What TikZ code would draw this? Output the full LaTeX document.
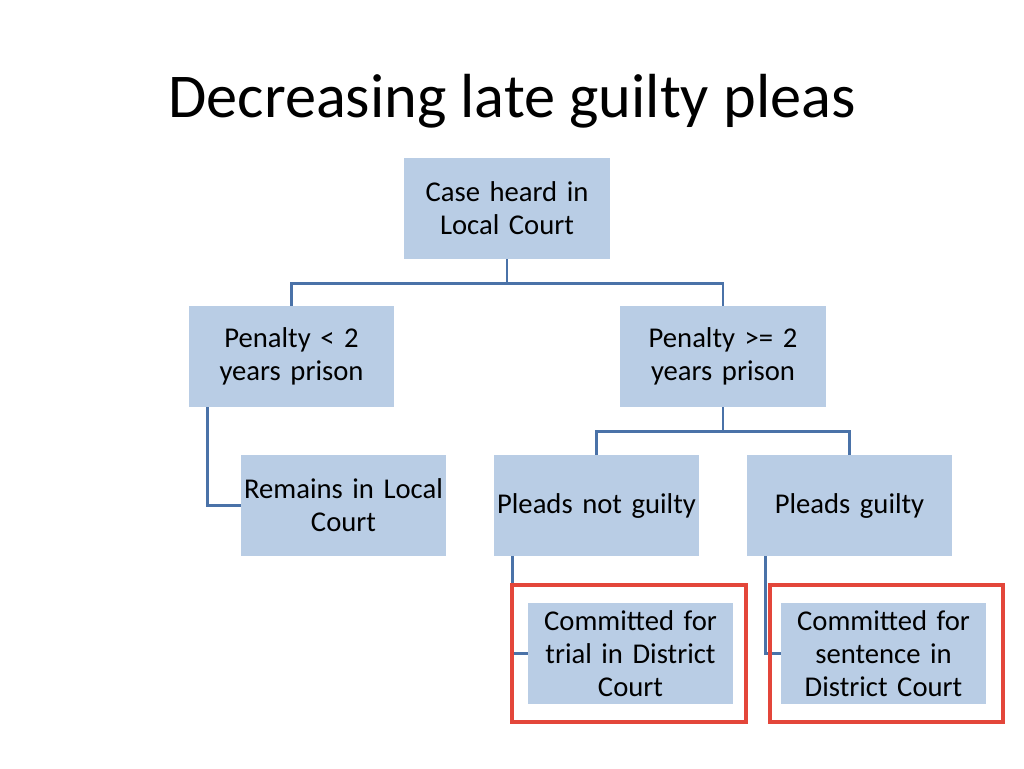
\documentclass[tikz,border=0pt]{standalone}
\usepackage{fontspec}
\setmainfont{Carlito}
\usetikzlibrary{positioning}

\definecolor{boxblue}{HTML}{B9CDE5}
\definecolor{linkblue}{HTML}{4A72A8}
\definecolor{markred}{HTML}{E3463A}

\tikzset{
  stage/.style={rectangle, fill=boxblue, minimum width=2.05in, minimum height=1.01in,
    align=center, text width=2.05in, font=\fontsize{20.7}{23.8}\selectfont, inner sep=0pt},
  link/.style={draw=linkblue, line width=1.9pt},
  redframe/.style={draw=markred, line width=2.2pt}
}

\begin{document}
\begin{tikzpicture}[x=0.01in, y=-0.01in]

      \useasboundingbox (0,0) rectangle (1024,768);

      \node (title) at (512,101) {\fontsize{45}{54}\selectfont Decreasing late guilty pleas};

      \begin{scope}[every node/.style={stage}]
        \node (case)     at (507,208.5)   {Case heard in\\Local Court};
        \node (penlo)    at (291.5,356.5) {Penalty < 2\\years prison};
        \node (penhi)    at (723,356.5)   {Penalty >= 2\\years prison};
        \node (remain)   at (343.5,505.5) {Remains in Local\\Court};
        \node (notguilty) at (596.5,505.5) {Pleads not guilty};
        \node (guilty)   at (849.5,505.5) {Pleads guilty};
        \node (trial)    at (630.5,653.5) {Committed for\\trial in District\\Court};
        \node (sentence) at (883.5,653.5) {Committed for\\sentence in\\District Court};
      \end{scope}

      % tree links
      \path (case.south) ++(0,24) coordinate (split1);
      \path (penhi.south) ++(0,24) coordinate (split2);
      \draw[link] (case.south) -- (split1);
      \draw[link] (penlo.north) -- (penlo.north |- split1) -- (penhi.north |- split1) -- (penhi.north);
      \draw[link] (penhi.south) -- (split2);
      \draw[link] (notguilty.north) -- (notguilty.north |- split2) -- (guilty.north |- split2) -- (guilty.north);

      % side links
      \draw[link] ([xshift=0.19in]penlo.south west) |- (remain.west);
      \draw[link] ([xshift=0.19in]notguilty.south west) |- (trial.west);
      \draw[link] ([xshift=0.19in]guilty.south west) |- (sentence.west);

      % highlight
      \draw[redframe] (512,585) rectangle (746,722);
      \draw[redframe] (770,585) rectangle (1003,722);

    \end{tikzpicture}
\end{document}
